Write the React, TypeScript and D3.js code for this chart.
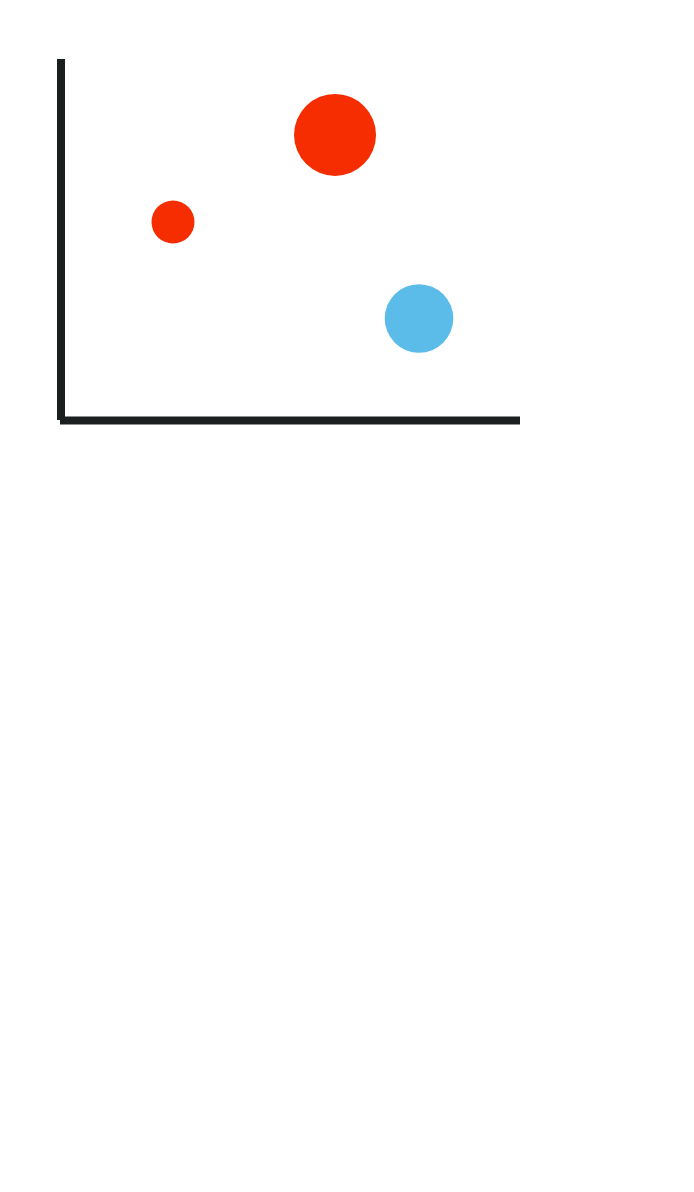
import React from "react";
import * as d3 from "d3";

// values
const xValues = [24.4, 59.7, 78];
const yValues = [55, 79.2, 28.2];
const sizes = [11, 40, 28];
const groups = ["a", "a", "b"];

const width = 694;
const height = 440;

export default function App() {
  const x = d3.scaleLinear().domain([0, 100]).range([61, 520]);
  const y = d3.scaleLinear().domain([0, 100]).range([420, 60]);
  const r = d3.scaleSqrt().domain([0, 40]).range([0, 41]);
  const color = d3
    .scaleOrdinal<string, string>()
    .domain(["a", "b"])
    .range(["#f52d00", "#5bbcea"]);

  const points = xValues.map((v, i) => ({
    x: v,
    y: yValues[i],
    size: sizes[i],
    group: groups[i],
  }));

  const axisColor = "#1c1f1f";

  return (
    <svg
      width={width}
      height={height}
      style={{ position: "absolute", left: 0, top: 0, display: "block" }}
    >
      {points.map((d, i) => (
        <circle
          key={i}
          cx={x(d.x)}
          cy={y(d.y)}
          r={r(d.size)}
          fill={color(d.group)}
        />
      ))}
      {/* y axis */}
      <line
        x1={x(0)}
        x2={x(0)}
        y1={y(100) - 1}
        y2={y(0)}
        stroke={axisColor}
        strokeWidth={8}
      />
      {/* x axis */}
      <line
        x1={x(0) - 1}
        x2={x(100)}
        y1={y(0) + 0.5}
        y2={y(0) + 0.5}
        stroke={axisColor}
        strokeWidth={8}
      />
    </svg>
  );
}
